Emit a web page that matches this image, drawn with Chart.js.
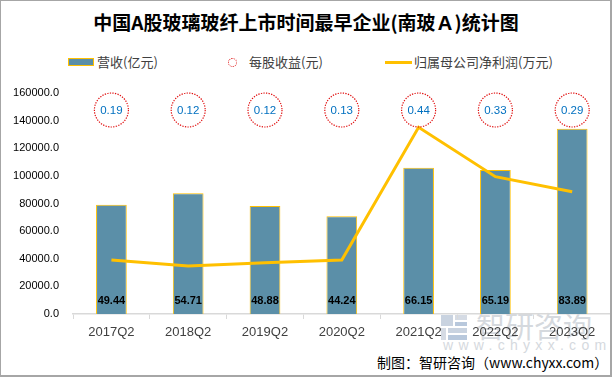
<!DOCTYPE html>
<html>
<head>
<meta charset="utf-8">
<script src="https://cdn.jsdelivr.net/npm/chart.js@4/dist/chart.umd.min.js"></script>
<style>
  html, body { margin: 0; padding: 0; background: #fff; }
  #wrap { position: relative; width: 612px; height: 377px; overflow: hidden; font-family: "Noto Sans CJK SC", "Liberation Sans", sans-serif; }
  #frame { position: absolute; left: 0; top: 0; width: 612px; height: 377px; box-sizing: border-box; border: 1px solid #a6a6a6; border-right-width: 2px; border-bottom-width: 2px; pointer-events: none; z-index: 5; }
  #title { position: absolute; left: 0; width: 612px; top: 8px; text-align: center; font-size: 19px; font-weight: bold; color: #000; line-height: 28px; white-space: nowrap; }
  .lg { position: absolute; font-size: 13px; color: #404040; line-height: 16px; top: 54px; white-space: nowrap; }
  #sw1 { position: absolute; left: 68px; top: 58px; width: 26px; height: 8px; box-sizing: border-box; background: #5B8FA8; border: 1.5px solid #FFC000; }
  #sw2 { position: absolute; left: 228px; top: 58px; width: 9px; height: 9px; box-sizing: border-box; border-radius: 50%; border: 1px dotted #e02020; }
  #sw3 { position: absolute; left: 385px; top: 60.5px; width: 27px; height: 3px; background: #FFC000; }
  #wm1 { position: absolute; left: 476px; top: 308px; font-size: 29px; color: #d5d9de; letter-spacing: 0px; white-space: nowrap; line-height: 34px; }
  #wm2 { position: absolute; left: 443px; top: 337px; font-size: 14px; color: #d5d9de; letter-spacing: 5.3px; white-space: nowrap; line-height: 16px; font-family: "Liberation Sans", sans-serif; }
  #logo { position: absolute; left: 441px; top: 315px; width: 26px; height: 25px; }
  #src { position: absolute; left: 377px; top: 353px; font-size: 14px; color: #000; white-space: nowrap; line-height: 18px; }
  canvas { position: absolute; left: 0; top: 0; z-index: 2; }
</style>
</head>
<body>
<div id="wrap">
  <div id="wm1">智研咨询</div>
  <div id="wm2">www.chyxx.com</div>
  <svg id="logo" viewBox="0 0 26 25">
    <rect x="0" y="0" width="12" height="11" fill="#c9d3e0"/>
    <rect x="14" y="0" width="12" height="5" fill="#d5dbe4"/>
    <rect x="14" y="7" width="12" height="4" fill="#b8c8dc"/>
    <rect x="0" y="13" width="5" height="12" fill="#d5dbe4"/>
    <rect x="7" y="13" width="19" height="5" fill="#c9d3e0"/>
    <rect x="7" y="20" width="19" height="5" fill="#b8c8dc"/>
  </svg>
  <canvas id="c" width="612" height="377"></canvas>
  <div id="title">中国A股玻璃玻纤上市时间最早企业(南玻Ａ)统计图</div>
  <div id="sw1"></div><div class="lg" style="left:97px">营收(亿元)</div>
  <div id="sw2"></div><div class="lg" style="left:249px">每股收益(元)</div>
  <div id="sw3"></div><div class="lg" style="left:414px">归属母公司净利润(万元)</div>
  <div id="src">制图：智研咨询（www.chyxx.com）</div>
  <div id="frame"></div>
</div>
<script>
const categories = ["2017Q2", "2018Q2", "2019Q2", "2020Q2", "2021Q2", "2022Q2", "2023Q2"];
const revenueBars = [79100, 87500, 78200, 70800, 105800, 104300, 134200];
const revenueLabels = ["49.44", "54.71", "48.88", "44.24", "66.15", "65.19", "83.89"];
const epsLabels = ["0.19", "0.12", "0.12", "0.13", "0.44", "0.33", "0.29"];
const netProfit = [39100, 34700, 37100, 39100, 135200, 99400, 88500];
const yTicks = [0, 20000, 40000, 60000, 80000, 100000, 120000, 140000, 160000];

const overlay = {
  id: 'overlay',
  afterDatasetsDraw(chart) {
    const ctx = chart.ctx;
    const meta = chart.getDatasetMeta(1);
    const area = chart.chartArea;
    ctx.save();
    // bar value labels
    ctx.font = 'bold 11px "Liberation Sans", Arial, sans-serif';
    ctx.fillStyle = '#000';
    ctx.textAlign = 'center';
    ctx.textBaseline = 'middle';
    meta.data.forEach((bar, i) => {
      ctx.fillText(revenueLabels[i], bar.x, area.bottom - 13);
    });
    // EPS circles
    const xs = chart.scales.x;
    categories.forEach((c, i) => {
      const x = xs.getPixelForValue(i);
      const y = area.top + 17;
      ctx.beginPath();
      ctx.setLineDash([1.3, 1.3]);
      ctx.lineWidth = 1.2;
      ctx.strokeStyle = '#e01010';
      ctx.arc(x, y, 17, 0, Math.PI * 2);
      ctx.stroke();
      ctx.setLineDash([]);
      ctx.font = '11.5px "Liberation Sans", Arial, sans-serif';
      ctx.fillStyle = '#0070C0';
      ctx.fillText(epsLabels[i], x, y + 0.5);
    });
    ctx.restore();
  }
};

new Chart(document.getElementById('c'), {
  data: {
    labels: categories,
    datasets: [
      {
        type: 'line',
        label: '归属母公司净利润(万元)',
        data: netProfit,
        borderColor: '#FFC000',
        backgroundColor: '#FFC000',
        borderWidth: 3,
        pointRadius: 0,
        tension: 0,
        order: 0
      },
      {
        type: 'bar',
        label: '营收(亿元)',
        data: revenueBars,
        backgroundColor: '#5B8FA8',
        borderColor: '#FFC000',
        borderWidth: 1,
        barPercentage: 0.4,
        categoryPercentage: 1.0,
        order: 1
      }
    ]
  },
  options: {
    responsive: false,
    animation: false,
    devicePixelRatio: 1,
    layout: { padding: { top: 93, right: 1.4, left: 0, bottom: 0 } },
    plugins: { legend: { display: false }, title: { display: false }, tooltip: { enabled: false } },
    scales: {
      x: {
        offset: true,
        grid: { display: true, offset: true, drawOnChartArea: false, drawTicks: true, tickLength: 5, color: '#D9D9D9', lineWidth: 1 },
        border: { display: true, color: '#D9D9D9', width: 1.5 },
        ticks: { color: '#404040', font: { size: 13, family: '"Liberation Sans", Arial, sans-serif' }, padding: 6, maxRotation: 0 },
        afterFit(s) { s.height = 63; }
      },
      y: {
        min: 0, max: 160000,
        afterBuildTicks(s) { s.ticks = yTicks.map(v => ({ value: v })); },
        grid: { display: false, drawTicks: false },
        border: { display: false },
        ticks: { color: '#000', font: { size: 11, family: '"Liberation Sans", Arial, sans-serif' }, padding: 14, callback: v => Number(v).toFixed(1) },
        afterFit(s) { s.width = 73; }
      }
    }
  },
  plugins: [overlay]
});
</script>
</body>
</html>
